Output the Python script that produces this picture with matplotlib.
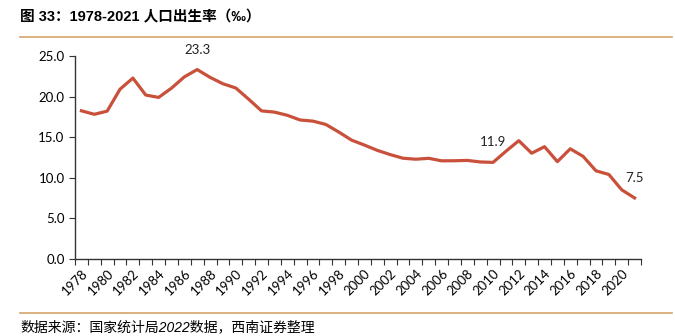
import matplotlib
matplotlib.use("Agg")
import matplotlib.pyplot as plt
from matplotlib.lines import Line2D

plt.rcParams['font.family'] = ['Lato', 'Noto Sans CJK SC', 'DejaVu Sans']

# --- data (birth rate, per mille) ---
years = list(range(1978, 2022))
birth_rate = [18.25, 17.82, 18.21, 20.91, 22.28, 20.19, 19.90, 21.04, 22.43, 23.33,
              22.37, 21.58, 21.06, 19.68, 18.24, 18.09, 17.70, 17.12, 16.98, 16.57,
              15.64, 14.64, 14.03, 13.38, 12.86, 12.41, 12.29, 12.40, 12.09, 12.10,
              12.14, 11.95, 11.90, 13.27, 14.57, 13.03, 13.83, 11.99, 13.57, 12.64,
              10.86, 10.41, 8.52, 7.52]
label_years = [1987, 2010, 2021]
y_ticks = [0, 5, 10, 15, 20, 25]

title = "图 33：1978-2021 人口出生率（‰）"
source = "数据来源：国家统计局2022数据，西南证券整理"

line_color = "#C9503A"
rule_color = "#D2A46C"

fig = plt.figure(figsize=(6.75, 3.36), dpi=100)
ax = fig.add_axes([75 / 675, 1 - 259 / 336, 566 / 675, 203 / 336])

x = list(range(len(years)))
ax.plot(x, birth_rate, color=line_color, linewidth=2.3, solid_joinstyle='round')

for yr in label_years:
    i = years.index(yr)
    ax.annotate(f"{birth_rate[i]:.1f}", (i, birth_rate[i]), xytext=(0, 10),
                textcoords='offset points', ha='center', va='bottom',
                fontsize=9.5, color='#222222')

ax.set_xlim(-0.5, len(years) - 0.5)
ax.set_ylim(0, 25)
ax.set_yticks(y_ticks)
ax.set_yticklabels([f"{v:.1f}" for v in y_ticks], fontsize=9.5)

# ticks between categories, labels every other year
ax.set_xticks([i - 0.5 for i in range(len(years) + 1)])
ax.set_xticklabels([])
ax.set_xticks([i for i in range(0, len(years), 2)], minor=True)
ax.set_xticklabels([str(years[i]) for i in range(0, len(years), 2)], minor=True,
                   rotation=45, ha='right', rotation_mode='anchor', fontsize=9.5)
ax.tick_params(axis='x', which='minor', length=0, pad=6)
ax.tick_params(axis='x', which='major', length=4, direction='out', color='#333333')
ax.tick_params(axis='y', length=4, direction='out', color='#333333')

for s in ['top', 'right']:
    ax.spines[s].set_visible(False)
for s in ['left', 'bottom']:
    ax.spines[s].set_color('#333333')
    ax.spines[s].set_linewidth(1.0)

fig.text(20 / 675, 1 - 17 / 336, title, fontsize=10.5, fontweight='bold',
         family=['Liberation Sans', 'Noto Sans CJK SC', 'DejaVu Sans'], va='center', ha='left')
fig.add_artist(Line2D([20 / 675, 672 / 675], [1 - 37 / 336] * 2, color=rule_color, linewidth=1.2))
fig.add_artist(Line2D([20 / 675, 672 / 675], [1 - 313 / 336] * 2, color=rule_color, linewidth=1.2))
fig.text(20 / 675, 1 - 327 / 336, source, fontsize=10, style='italic',
         family=['Liberation Sans', 'Noto Sans CJK SC', 'DejaVu Sans'], va='center', ha='left')

fig.savefig("out.png", dpi=100)
